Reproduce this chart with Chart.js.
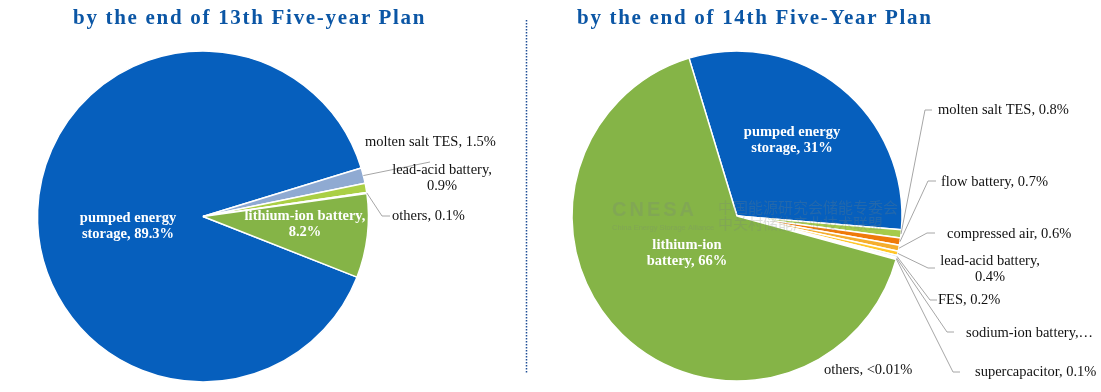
<!DOCTYPE html>
<html><head><meta charset="utf-8">
<script src="https://cdn.jsdelivr.net/npm/chart.js@4.4.0/dist/chart.umd.min.js"></script>
<style>
html,body{margin:0;padding:0;background:#fff;width:1101px;height:392px;overflow:hidden;}
#wrap{position:relative;width:1101px;height:392px;}
canvas{position:absolute;left:0;top:0;}
.title{position:absolute;top:5px;line-height:24px;font:bold 21px "Liberation Serif","Times New Roman",serif;color:#0B56A5;letter-spacing:1.7px;white-space:nowrap;}
</style></head><body>
<div id="wrap">
<canvas id="c13" width="1101" height="392"></canvas>
<canvas id="c14" width="1101" height="392"></canvas>
<div class="title" style="left:73px">by the end of 13th Five-year Plan</div>
<div class="title" style="left:577px">by the end of 14th Five-Year Plan</div>
</div>
<script>
// ---- data ----
const categories13 = ["pumped energy storage","molten salt TES","lead-acid battery","others","lithium-ion battery"];
const values13 = [89.3, 1.5, 0.9, 0.1, 8.2];
const labelText13 = ["pumped energy\nstorage, 89.3%","molten salt TES, 1.5%","lead-acid battery,\n0.9%","others, 0.1%","lithium-ion battery,\n8.2%"];

const categories14 = ["pumped energy storage","molten salt TES","flow battery","compressed air","lead-acid battery","FES","sodium-ion battery","supercapacitor","others","lithium-ion battery"];
const values14 = [31, 0.8, 0.7, 0.6, 0.4, 0.2, 0.1, 0.1, 0.005, 66];
const labelText14 = ["pumped energy\nstorage, 31%","molten salt TES, 0.8%","flow battery, 0.7%","compressed air, 0.6%","lead-acid battery,\n0.4%","FES, 0.2%","sodium-ion battery,\u2026","supercapacitor, 0.1%","others, <0.01%","lithium-ion\nbattery, 66%"];

// ---- styles ----
const colors13 = ["#065FBD","#8FAAD2","#AACF45","#D9E4C4","#85B447"];
const colors14 = ["#065FBD","#A5CB4A","#EF7A0A","#F5AE2E","#FFC629","#BDD7EE","#C9C9C9","#9DC3E6","#E2EFDA","#85B447"];

const layout13 = [
  {inside:true, dx:-75, dy:9.5},
  {dx:162, dy:-74.5, align:'left', line:[[227,-54.5]]},
  {dx:239, dy:-38, align:'center'},
  {dx:189, dy:-0.5, align:'left', line:[[179,-0.5],[187,-0.5]]},
  {inside:true, dx:102, dy:8}
];
const layout14 = [
  {inside:true, dx:55, dy:-76},
  {dx:201, dy:-106, align:'left', line:[[188,-106],[195,-106]]},
  {dx:204, dy:-34, align:'left', line:[[191,-35],[199,-35]]},
  {dx:210, dy:18, align:'left', line:[[190,17],[198,17]]},
  {dx:253, dy:53.5, align:'center', line:[[191,52],[198,52]]},
  {dx:201, dy:84, align:'left', line:[[193,84],[200,84]]},
  {dx:229, dy:117, align:'left', line:[[210,116],[217,116]]},
  {dx:238, dy:156, align:'left', line:[[216,156],[223,156]]},
  {dx:87, dy:154, align:'left'},
  {inside:true, dx:-50, dy:37.5}
];

const serif = '"Liberation Serif","Times New Roman",serif';

function labelPlugin(layout, texts, watermark, divider){
  return {
    id:'sliceLabels',
    afterDatasetsDraw(chart){
      const ctx = chart.ctx;
      const meta = chart.getDatasetMeta(0);
      if (divider){
        ctx.save();
        ctx.strokeStyle = '#1F4E96';
        ctx.lineWidth = 1.5;
        ctx.setLineDash([1.5,1.5]);
        ctx.beginPath(); ctx.moveTo(526.5,20); ctx.lineTo(526.5,374); ctx.stroke();
        ctx.restore();
      }
      const a0 = meta.data[0];
      if (watermark && a0){
        const cx=a0.x, cy=a0.y;
        ctx.save();
        ctx.fillStyle='rgba(120,130,125,0.26)';
        ctx.textBaseline='middle';
        ctx.textAlign='left';
        ctx.font='bold 20px "Liberation Sans",Arial,sans-serif';
        if ('letterSpacing' in ctx) ctx.letterSpacing='3px';
        ctx.fillText('CNESA', cx-125, cy-6);
        if ('letterSpacing' in ctx) ctx.letterSpacing='0px';
        ctx.font='7.5px "Liberation Sans",Arial,sans-serif';
        ctx.fillText('China Energy Storage Alliance', cx-125, cy+12);
        ctx.font='15px "Noto Sans CJK SC",sans-serif';
        ctx.fillText('中国能源研究会储能专委会', cx-19, cy-9);
        ctx.fillText('中关村储能产业技术联盟', cx-19, cy+7);
        ctx.restore();
      }
      meta.data.forEach((arc,i)=>{
        const L = layout[i]; if(!L) return;
        const cx = arc.x, cy = arc.y;
        ctx.save();
        if (L.line){
          const mid = (arc.startAngle+arc.endAngle)/2;
          const ex = cx+Math.cos(mid)*arc.outerRadius, ey = cy+Math.sin(mid)*arc.outerRadius;
          ctx.strokeStyle='#A6A6A6'; ctx.lineWidth=1;
          ctx.beginPath(); ctx.moveTo(ex,ey);
          L.line.forEach(p=>ctx.lineTo(cx+p[0], cy+p[1]));
          ctx.stroke();
        }
        const lines = texts[i].split('\n');
        const lh = 16;
        ctx.font = (L.inside?'bold ':'')+'14.5px '+serif;
        ctx.fillStyle = L.inside?'#FFFFFF':'#111111';
        ctx.textAlign = L.inside?'center':L.align;
        ctx.textBaseline='middle';
        const y0 = cy+L.dy-(lines.length-1)*lh/2;
        lines.forEach((t,k)=>ctx.fillText(t, cx+L.dx, y0+k*lh));
        ctx.restore();
      });
    }
  };
}

function makePie(id, cats, vals, cols, rot, pad, layout, texts, wm, div){
  new Chart(document.getElementById(id), {
    type:'pie',
    data:{labels:cats, datasets:[{data:vals, backgroundColor:cols, borderColor:'#FFFFFF', borderWidth:1.5}]},
    options:{
      responsive:false, animation:false, rotation:rot,
      layout:{padding:pad},
      plugins:{legend:{display:false}, tooltip:{enabled:false}, title:{display:false}}
    },
    plugins:[labelPlugin(layout, texts, wm, div)]
  });
}

makePie('c13', categories13, values13, colors13, 111.5,
  {left:36.75, top:50.25, right:731.75, bottom:9.25}, layout13, labelText13, false, true);
makePie('c14', categories14, values14, colors14, -16.9,
  {left:571.25, top:50.25, right:198.25, bottom:10.25}, layout14, labelText14, true, false);
</script>
</body></html>
